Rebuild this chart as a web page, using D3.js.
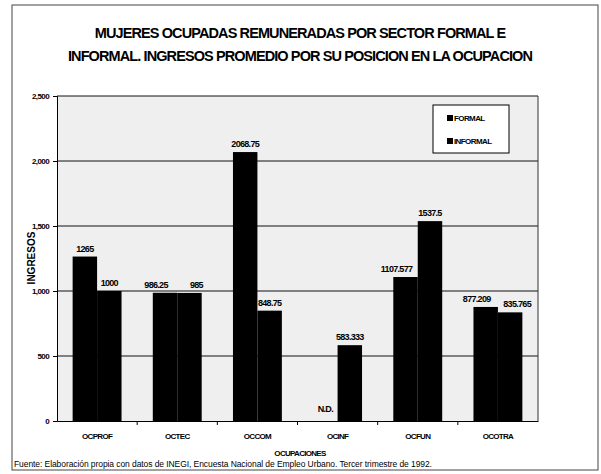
<!DOCTYPE html>
<html><head><meta charset="utf-8">
<script src="https://cdn.jsdelivr.net/npm/d3@7/dist/d3.min.js"></script>
<style>body{margin:0;background:#fff}svg{display:block}text{font-family:"Liberation Sans Narrow","Liberation Sans",Arial,sans-serif;fill:#000}</style>
</head><body><svg id="c" width="601" height="474"></svg>
<script>
const categories = ["OCPROF","OCTEC","OCCOM","OCINF","OCFUN","OCOTRA"];
const formal = [1265, 986.25, 2068.75, null, 1107.577, 877.209];
const informal = [1000, 985, 848.75, 583.333, 1537.5, 835.765];
const formalLabels = ["1265","986.25","2068.75","N.D.","1107.577","877.209"];
const informalLabels = ["1000","985","848.75","583.333","1537.5","835.765"];
const seriesNames = ["FORMAL","INFORMAL"];
const yTicks = [0,500,1000,1500,2000,2500];
const titleLines = ["MUJERES OCUPADAS REMUNERADAS POR SECTOR FORMAL E","INFORMAL. INGRESOS PROMEDIO POR SU POSICION EN LA OCUPACION"];

const svg = d3.select("#c");
svg.append("rect").attr("x",12).attr("y",5).attr("width",586).attr("height",465)
  .attr("fill","none").attr("stroke","#444").attr("stroke-width",1);

titleLines.forEach((t,i)=>{
  svg.append("text").attr("x",300).attr("y",[38,61][i]).attr("text-anchor","middle")
    .attr("font-size",14.5).attr("font-weight","bold").attr("letter-spacing",-0.9).text(t);
});

const L=57,R=538,T=96,B=421;
const x = d3.scaleBand().domain(categories).range([L,R]).paddingInner(0).paddingOuter(0);
const y = d3.scaleLinear().domain([0,2500]).range([B,T]);
const bw = x.bandwidth();
const barW = bw*0.305;
const off = (bw-2*barW)/2;

const g = svg.append("g");
g.append("rect").attr("x",L).attr("y",T).attr("width",R-L).attr("height",B-T).attr("fill","#efefef");
g.selectAll("line.grid").data(yTicks.slice(1)).join("line")
  .attr("x1",L).attr("x2",R).attr("y1",d=>y(d)).attr("y2",d=>y(d)).attr("stroke","#111").attr("stroke-width",1);
g.append("line").attr("x1",R).attr("x2",R).attr("y1",T).attr("y2",B).attr("stroke","#333");

const fData = categories.map((c,i)=>({c,v:formal[i],o:informal[i],lab:formalLabels[i]}));
const iData = categories.map((c,i)=>({c,v:informal[i],o:formal[i],lab:informalLabels[i]}));
g.selectAll("rect.f").data(fData.filter(d=>d.v!=null)).join("rect")
  .attr("x",d=>x(d.c)+off).attr("y",d=>y(d.v)).attr("width",barW).attr("height",d=>B-y(d.v)).attr("fill","#000");
g.selectAll("rect.i").data(iData).join("rect")
  .attr("x",d=>x(d.c)+off+barW).attr("y",d=>y(d.v)).attr("width",barW).attr("height",d=>B-y(d.v)).attr("fill","#000");

function labelX(d,shift){
  const cx = x(d.c)+off+barW*shift+barW/2;
  if(d.v==null || d.o==null) return cx;
  const close = Math.abs(y(d.v)-y(d.o)) < 14;
  if(shift===0 && (d.o>d.v || close)) return cx-9;
  if(shift===1 && close) return cx+7;
  return cx;
}
const lab = (data,shift)=>g.selectAll(null).data(data).join("text")
  .attr("x",d=>labelX(d,shift))
  .attr("y",d=>d.v==null? B-9 : y(d.v)-5)
  .attr("text-anchor","middle").attr("font-size",9).attr("font-weight","bold").attr("letter-spacing",-0.7)
  .text(d=>d.lab);
lab(fData,0); lab(iData,1);

const ya = d3.axisLeft(y).tickValues(yTicks).tickSize(4).tickFormat(d3.format(","));
const yg = svg.append("g").attr("transform",`translate(${L},0)`).call(ya);
yg.select(".domain").attr("stroke","#000");
yg.selectAll("text").attr("font-size",8).attr("font-weight","bold").attr("letter-spacing",-0.6).attr("dx",-1);

const xa = d3.axisBottom(x).tickSize(0).tickPadding(12);
const xg = svg.append("g").attr("transform",`translate(0,${B})`).call(xa);
xg.select(".domain").attr("stroke","#000");
xg.selectAll("text").attr("font-size",8).attr("font-weight","bold").attr("letter-spacing",-0.7);
xg.selectAll("line.b").data(categories.slice(1)).join("line")
  .attr("x1",d=>x(d)).attr("x2",d=>x(d)).attr("y1",0).attr("y2",4).attr("stroke","#000");

svg.append("text").attr("transform","translate(35,258) rotate(-90)").attr("text-anchor","middle")
  .attr("font-size",10).attr("font-weight","bold").text("INGRESOS");
svg.append("text").attr("x",300).attr("y",456).attr("text-anchor","middle")
  .attr("font-size",8).attr("font-weight","bold").attr("letter-spacing",-0.7).text("OCUPACIONES");
svg.append("text").attr("x",14).attr("y",467).attr("font-size",8.5).attr("letter-spacing",-0.08)
  .text("Fuente: Elaboración propia con datos de INEGI, Encuesta Nacional de Empleo Urbano. Tercer trimestre de 1992.");

const lg = svg.append("g");
lg.append("rect").attr("x",433).attr("y",105).attr("width",76).attr("height",48).attr("fill","#fff").attr("stroke","#000");
seriesNames.forEach((s,i)=>{
  const yy=[119,142][i];
  lg.append("rect").attr("x",447).attr("y",yy-4).attr("width",6).attr("height",6).attr("fill","#000");
  lg.append("text").attr("x",454).attr("y",yy+2).attr("font-size",8).attr("font-weight","bold").attr("letter-spacing",-0.6).text(s);
});
</script></body></html>
